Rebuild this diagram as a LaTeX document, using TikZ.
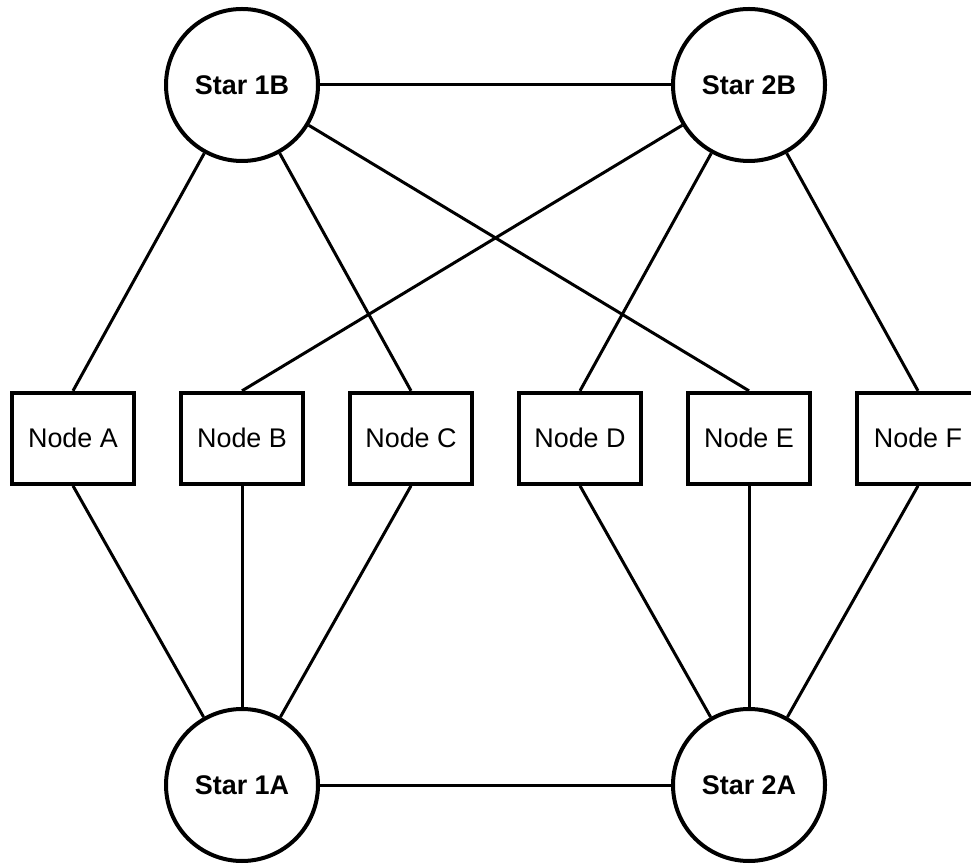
\documentclass[tikz,border=0pt]{standalone}
\usepackage{fontspec}
\setmainfont{Liberation Sans}
\usepackage{tikz}
\usetikzlibrary{shapes,positioning,calc}
\tikzset{
    % Base node style
    basenode/.style={
        draw=black,
        fill=white,
        line width=0.12cm,
        align=center,
        font=\fontsize{23}{27}\selectfont
    },
    % Star (circle) style
    starnode/.style={
        basenode,
        circle,
        minimum size=4.56cm,
        inner sep=0pt,
        font=\fontsize{23}{27}\selectfont\bfseries
    },
    % Leaf box style
    boxnode/.style={
        basenode,
        rectangle,
        minimum width=3.66cm,
        minimum height=2.73cm,
        inner sep=0pt
    },
    % Plain connector
    link/.style={
        line width=0.09cm,
        draw=black
    }
}
\begin{document}
\begin{tikzpicture}
        \useasboundingbox (0,0) rectangle (29.13,25.92);

        % Stars
        \node[starnode] (s1b) at (7.26,23.37) {Star 1B};
        \node[starnode] (s2b) at (22.47,23.37) {Star 2B};
        \node[starnode] (s1a) at (7.26,2.37) {Star 1A};
        \node[starnode] (s2a) at (22.47,2.37) {Star 2A};

        % Leaf nodes
        \node[boxnode] (na) at (2.19,12.77) {Node A};
        \node[boxnode] (nb) at (7.26,12.77) {Node B};
        \node[boxnode] (nc) at (12.33,12.77) {Node C};
        \node[boxnode] (nd) at (17.40,12.77) {Node D};
        \node[boxnode] (ne) at (22.47,12.77) {Node E};
        \node[boxnode] (nf) at (27.54,12.77) {Node F};

        % Star to star
        \draw[link] (s1b) -- (s2b);
        \draw[link] (s1a) -- (s2a);

        % Upper stars down to leaves
        \draw[link] (s1b) -- (na.north);
        \draw[link] (s1b) -- (nc.north);
        \draw[link] (s1b) -- (ne.north);
        \draw[link] (s2b) -- (nb.north);
        \draw[link] (s2b) -- (nd.north);
        \draw[link] (s2b) -- (nf.north);

        % Leaves down to lower stars
        \draw[link] (na.south) -- (s1a);
        \draw[link] (nb.south) -- (s1a);
        \draw[link] (nc.south) -- (s1a);
        \draw[link] (nd.south) -- (s2a);
        \draw[link] (ne.south) -- (s2a);
        \draw[link] (nf.south) -- (s2a);
    \end{tikzpicture}
\end{document}
